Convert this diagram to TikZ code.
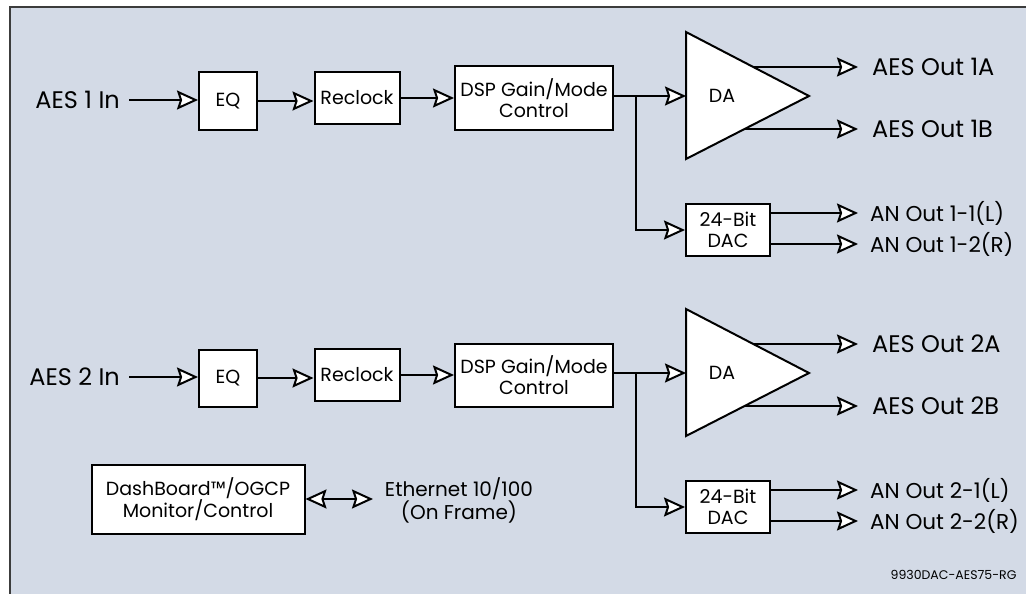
\documentclass[tikz,border=0pt]{standalone}
\usepackage{fontspec}
\setmainfont{Poppins}
\usetikzlibrary{arrows.meta}
\definecolor{panel}{RGB}{211,218,230}
\definecolor{rim}{RGB}{60,60,60}
\tikzset{blk/.style={draw, fill=white, line width=2pt, align=center, inner sep=0pt},
  lbl/.style={font=\fontsize{24}{26}\selectfont, inner xsep=14pt},
  flow/.style={line width=2pt, -{Stealth[fill=white, length=21pt, width=19pt, inset=3pt]}},
  both/.style={line width=2pt, {Stealth[fill=white, length=21pt, width=19pt, inset=3pt]}-{Stealth[fill=white, length=21pt, width=19pt, inset=3pt]}}}

\begin{document}
\begin{tikzpicture}[x=1pt, y=-1pt, font=\fontsize{19}{21}\selectfont]
\useasboundingbox (0,0) rectangle (1026,594);
\draw [fill=panel, draw=rim, line width=2pt] (10,7) rectangle (1040,610);
% two identical channels
\foreach \r/\n in {0/1, 277/2} {
  \node [lbl, anchor=east, inner xsep=9pt] (in\n) at (129,100+\r) {AES \n\ In};
  \node [blk, minimum width=58pt, minimum height=57pt] (eq\n) at (228,101+\r) {EQ};
  \node [blk, minimum width=85pt, minimum height=52pt] (rc\n) at (357,98+\r) {Reclock};
  \node [blk, minimum width=158pt, minimum height=63pt] (dsp\n) at (534,98+\r) {DSP Gain/Mode\\Control};
  \coordinate (j\n) at (636,96+\r);
  \draw [flow] (in\n.east) -- (in\n.east -| eq\n.west);
  \draw [flow] (eq\n.east) -- (eq\n.east -| rc\n.west);
  \draw [flow] (rc\n.east) -- (rc\n.east -| dsp\n.west);
  \draw [line width=2pt] (dsp\n.east |- j\n) -- (j\n);
  % DA triangle
  \draw [blk] (686,32+\r) coordinate (tt\n) -- (809,96+\r) coordinate (tp\n) -- (686,159+\r) coordinate (tb\n) -- cycle;
  \node (da\n) at (722,96+\r) {DA};
  \draw [flow] (j\n) -- (j\n -| tt\n);
  \node [lbl, anchor=west] (oa\n) at (858,67+\r) {AES Out \n A};
  \node [lbl, anchor=west] (ob\n) at (858,129+\r) {AES Out \n B};
  \draw [flow] (753,67+\r) -- (oa\n.west);
  \draw [flow] (745,129+\r) -- (ob\n.west);
  % DAC branch
  \node [blk, minimum width=84pt, minimum height=52pt] (dac\n) at (728,230+\r) {24-Bit\\DAC};
  \draw [flow] (j\n) |- (dac\n.west);
  \node [lbl, anchor=west, font=\fontsize{21.5}{24}\selectfont, inner xsep=12pt] (al\n) at (858,213+\r) {AN Out \n-1(L)};
  \node [lbl, anchor=west, font=\fontsize{21.5}{24}\selectfont, inner xsep=12pt] (ar\n) at (858,244+\r) {AN Out \n-2(R)};
  \draw [flow] (al\n.west -| dac\n.east) -- (al\n.west);
  \draw [flow] (ar\n.west -| dac\n.east) -- (ar\n.west);
};
\node [blk, minimum width=213pt, minimum height=69pt] (dash) at (198,499) {DashBoard™/OGCP\\Monitor/Control};
\node [align=center, font=\fontsize{20}{22}\selectfont] (eth) at (459,500) {Ethernet 10/100\\(On Frame)};
\draw [both] (dash.east) -- (373,0 |- dash.east) coordinate (ethend);
\node [anchor=east, font=\fontsize{12.5}{14}\selectfont] (code) at (1020,575) {9930DAC-AES75-RG};
\end{tikzpicture}
\end{document}
